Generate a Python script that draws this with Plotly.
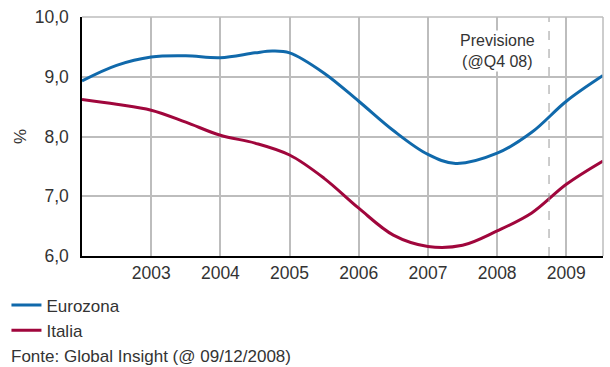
import plotly.graph_objects as go

# Half-yearly readings (%), smoothed with a spline
periods = [2002.0, 2002.5, 2003.0, 2003.5, 2004.0, 2004.5, 2004.75, 2005.0, 2005.5,
           2006.0, 2006.5, 2007.0, 2007.4, 2008.0, 2008.5, 2009.0, 2009.53]
eurozona = [8.93, 9.19, 9.33, 9.35, 9.32, 9.40, 9.43, 9.40, 9.06,
            8.59, 8.10, 7.70, 7.55, 7.72, 8.07, 8.59, 9.02]

periods_it = [2002.0, 2002.5, 2003.0, 2003.5, 2004.0, 2004.5, 2005.0, 2005.5, 2006.0,
              2006.5, 2007.0, 2007.5, 2008.0, 2008.5, 2009.0, 2009.53]
italia = [8.62, 8.54, 8.44, 8.24, 8.02, 7.89, 7.69, 7.30, 6.80,
          6.35, 6.16, 6.18, 6.42, 6.72, 7.20, 7.59]

year_ticks = [2003, 2004, 2005, 2006, 2007, 2008, 2009]
pct_ticks = [6, 7, 8, 9, 10]
pct_labels = ["6,0", "7,0", "8,0", "9,0", "10,0"]
forecast_start = 2008.75

FONT = "Liberation Sans, Arial, sans-serif"
TXT = "#333333"
GRID = "#bdbdbd"

fig = go.Figure()
fig.add_trace(go.Scatter(x=periods, y=eurozona, name="Eurozona", mode="lines",
                         line=dict(color="#1069ab", width=3, shape="spline", smoothing=1.0)))
fig.add_trace(go.Scatter(x=periods_it, y=italia, name="Italia", mode="lines",
                         line=dict(color="#a0063c", width=3, shape="spline", smoothing=1.0)))

# Forecast marker
fig.add_shape(type="line", x0=forecast_start, x1=forecast_start, y0=6, y1=10,
              xref="x", yref="y", line=dict(color="#999999", width=1, dash="dash"))
fig.add_annotation(x=2008, y=9.43, xref="x", yref="y", text="Previsione<br>(@Q4 08)",
                   showarrow=False, align="center", bgcolor="white",
                   font=dict(family=FONT, size=16, color=TXT))

fig.add_annotation(x=0, y=0, xref="paper", yref="paper", xanchor="left", yanchor="middle",
                   xshift=-73, yshift=-100, text="Fonte: Global Insight (@ 09/12/2008)",
                   showarrow=False, font=dict(family=FONT, size=17, color=TXT))

fig.update_layout(
    width=610, height=367,
    margin=dict(l=80, r=7, t=10, b=111),
    paper_bgcolor="white", plot_bgcolor="white",
    font=dict(family=FONT, size=17, color=TXT),
    showlegend=True,
    legend=dict(x=-0.145, y=-0.132, xref="paper", yref="paper", xanchor="left", yanchor="top",
                orientation="v", font=dict(family=FONT, size=17, color=TXT),
                tracegroupgap=0, itemwidth=30, bgcolor="rgba(0,0,0,0)"),
)

fig.update_xaxes(range=[2002.0, 2009.53], tickvals=year_ticks, ticktext=[str(y) for y in year_ticks],
                 showgrid=True, gridcolor=GRID, gridwidth=1.5,
                 showline=True, linecolor="black", linewidth=1.5, mirror=False,
                 ticks="", zeroline=False, tickfont=dict(size=17.5, color=TXT))
fig.update_yaxes(range=[6, 10], tickvals=pct_ticks, ticktext=pct_labels,
                 showgrid=True, gridcolor=GRID, gridwidth=1.5,
                 showline=True, linecolor="black", linewidth=1.5,
                 ticks="", zeroline=False, tickfont=dict(size=17.5, color=TXT),
                 ticklabelstandoff=8,
                 title=dict(text="%", font=dict(size=17, color=TXT), standoff=4))

# Light frame on top and right
fig.add_shape(type="line", xref="paper", yref="paper", x0=0, x1=1, y0=1, y1=1,
              line=dict(color=GRID, width=1.5))
fig.add_shape(type="line", xref="paper", yref="paper", x0=1, x1=1, y0=0, y1=1,
              line=dict(color=GRID, width=1.5))

fig.write_html("out.html")
